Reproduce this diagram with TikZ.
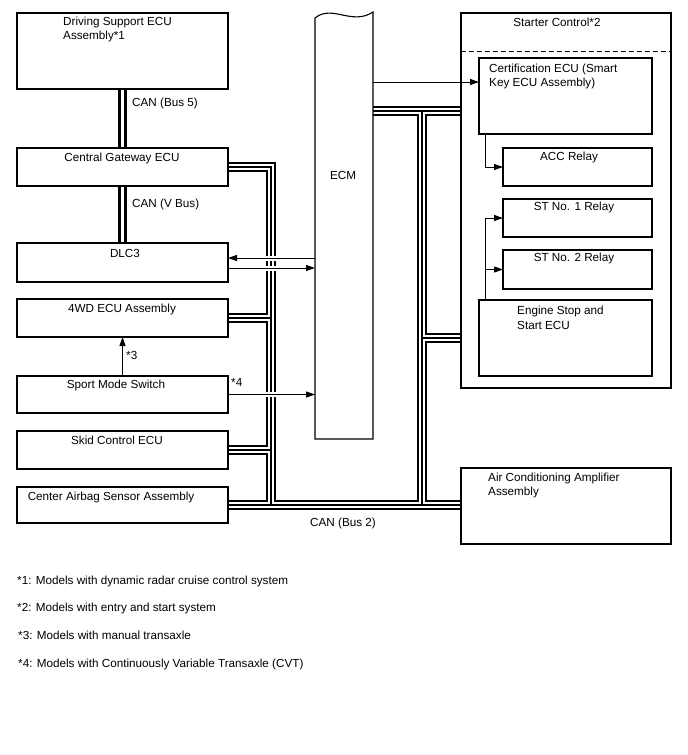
\documentclass[tikz,border=0pt]{standalone}
\usepackage{fontspec}
\setmainfont{Liberation Sans}
\usetikzlibrary{arrows.meta}
\pgfdeclarelayer{fg}
\pgfsetlayers{main,fg}
\begin{document}
\begin{tikzpicture}[x=1pt,y=-1pt,
 box/.style={draw,line width=1.1pt,inner sep=0pt,outer sep=0pt,anchor=north west},
 txt/.style={anchor=base,inner sep=0pt,font=\fontsize{11.7}{14}\selectfont},
 txtl/.style={txt,anchor=base west},
 arr/.style={line width=1pt,-{Triangle[length=9pt,width=6pt]}},
 gaparr/.style={arr,preaction={draw=white,line width=5pt,-}},
 dashline/.style={line width=1pt,dash pattern=on 5pt off 3pt}]
\useasboundingbox (0,0) rectangle (688,755);
\begin{pgfonlayer}{fg}
\node[box,minimum width=211pt,minimum height=76pt] (dse) at (17,13) {};
\node[box,minimum width=211pt,minimum height=38pt] (cgw) at (17,148) {};
\node[box,minimum width=211pt,minimum height=39pt] (dlc) at (17,243) {};
\node[box,minimum width=211pt,minimum height=38pt] (wd) at (17,299) {};
\node[box,minimum width=211pt,minimum height=37pt] (sport) at (17,376) {};
\node[box,minimum width=211pt,minimum height=38pt] (skid) at (17,431) {};
\node[box,minimum width=211pt,minimum height=36pt] (airbag) at (17,487) {};
\node[box,draw=none,minimum width=58pt,minimum height=431pt] (ecm) at (315,8) {};
\draw[line width=1.1pt] (ecm.south west) -- (315,18) .. controls (332,4) and (352,26) .. (373,12) -- (ecm.south east) -- cycle;
\node[box,minimum width=210pt,minimum height=375pt] (starter) at (461,13) {};
\node[box,minimum width=173pt,minimum height=76pt] (cert) at (479,58) {};
\node[box,minimum width=149pt,minimum height=38pt] (acc) at (503,148) {};
\node[box,minimum width=149pt,minimum height=38pt] (st1) at (503,199) {};
\node[box,minimum width=149pt,minimum height=39pt] (st2) at (503,250) {};
\node[box,minimum width=173pt,minimum height=76pt] (ess) at (479,300) {};
\node[box,minimum width=210pt,minimum height=76pt] (ac) at (461,468) {};
\draw[dashline] (starter.west |- 0,51) -- (starter.east |- 0,51);
% texts
\node[txtl] (tdse1) at (63,25) {Driving Support ECU};
\node[txtl] (tdse2) at (63,39) {Assembly*1};
\node[txt] (tcgw) at (122,161) {Central Gateway ECU};
\node[txt] (tdlc) at (125,257) {DLC3};
\node[txt] (twd) at (122,312) {4WD ECU Assembly};
\node[txt] (tsport) at (116,388) {Sport Mode Switch};
\node[txt] (tskid) at (117,444) {Skid Control ECU};
\node[txt] (tair) at (111,500) {Center Airbag Sensor Assembly};
\node[txtl] (tb5) at (132,106) {CAN (Bus 5)};
\node[txtl] (tvb) at (132,207) {CAN (V Bus)};
\node[txtl] (t3) at (126,359) {*3};
\node[txtl] (t4) at (231,386) {*4};
\node[txt] (tecm) at (343,179) {ECM};
\node[txt] (tstart) at (557,26) {Starter Control*2};
\node[txtl] (tcert1) at (489,72) {Certification ECU (Smart};
\node[txtl] (tcert2) at (489,86) {Key ECU Assembly)};
\node[txt] (tacc) at (569,160) {ACC Relay};
\node[txt] (tst1) at (574,210) {ST No. 1 Relay};
\node[txt] (tst2) at (574,261) {ST No. 2 Relay};
\node[txtl] (tess1) at (517,314) {Engine Stop and};
\node[txtl] (tess2) at (517,329) {Start ECU};
\node[txtl] (tac1) at (488,481) {Air Conditioning Amplifier};
\node[txtl] (tac2) at (488,495) {Assembly};
\node[txt] (tbus2) at (343,526) {CAN (Bus 2)};
\node[txtl] (f1) at (17,584) {*1: Models with dynamic radar cruise control system};
\node[txtl] (f2) at (17,611) {*2: Models with entry and start system};
\node[txtl] (f3) at (18,639) {*3: Models with manual transaxle};
\node[txtl] (f4) at (18,667) {*4: Models with Continuously Variable Transaxle (CVT)};
\end{pgfonlayer}
% CAN bus 2 network
\coordinate (vl) at (271,0);
\coordinate (vr) at (422,0);
\coordinate (ht) at (0,111);
\coordinate (hs) at (0,338);
\foreach \w/\c in {10/black,6/white,1.6/black}{
 \draw[line width=\w pt,\c]
   (cgw.east) -- (cgw.east -| vl) -- (vl |- airbag.east)
   (wd.east) -- (wd.east -| vl)
   (skid.east) -- (skid.east -| vl)
   (airbag.east) -- (airbag.east -| ac.west)
   (ecm.east |- ht) -- (starter.west |- ht)
   (vr |- ht) -- (vr |- airbag.east)
   (vr |- hs) -- (starter.west |- hs);
}
% Bus 5 and V Bus
\foreach \w/\c in {9/black,2.2/white}{
 \draw[line width=\w pt,\c] (dse.south) -- (cgw.north) (cgw.south) -- (dlc.north);
}
% arrows
\draw[gaparr] (ecm.west |- 0,258) -- (dlc.east |- 0,258);
\draw[gaparr] (dlc.east |- 0,268) -- (ecm.west |- 0,268);
\draw[gaparr] (sport.east) -- (sport.east -| ecm.west);
\draw[arr] (sport.north) -- (wd.south);
\draw[arr] (ecm.east |- 0,82) -- (cert.west |- 0,82);
\coordinate (ca) at ([xshift=6pt]cert.south west);
\draw[arr] (ca) |- (acc.west);
\coordinate (eb) at ([xshift=6pt]ess.north west);
\draw[arr] (eb) |- (st1.west);
\draw[arr] (eb |- st2.west) -- (st2.west);
\end{tikzpicture}
\end{document}
